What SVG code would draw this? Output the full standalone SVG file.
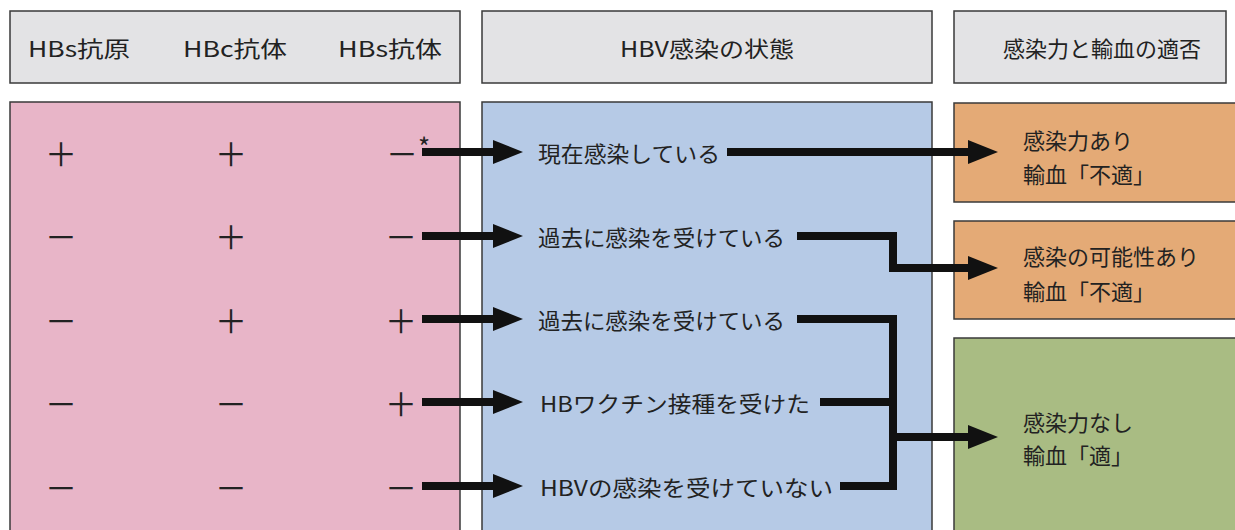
<svg xmlns="http://www.w3.org/2000/svg" width="1235" height="530" viewBox="0 0 1235 530">
<style>
text{font-family:"Noto Sans CJK JP","Noto Sans",sans-serif;fill:#222;}
.hdr{fill:#e3e3e5;stroke:#3a3a3a;stroke-width:1.5;}
.box{stroke:#3a3a3a;stroke-width:1.5;}
.h{font-size:22px;text-anchor:middle;dominant-baseline:central;}
.t{font-size:22px;dominant-baseline:central;}
.s{font-size:32px;text-anchor:middle;dominant-baseline:central;font-weight:400;}
.c{fill:none;stroke:#111;stroke-width:8;stroke-linejoin:miter;}
</style>
<defs>
<marker id="ah" markerUnits="userSpaceOnUse" markerWidth="30" markerHeight="24" refX="4" refY="12" orient="auto">
<path d="M0,0 L30,12 L0,24 Z" fill="#111"/>
</marker>
</defs>
<rect width="1235" height="530" fill="#fff"/>
<g id="header-markers">
<rect class="hdr" x="10" y="11" width="450" height="72"/>
<text class="h" x="79" y="47" textLength="102" lengthAdjust="spacingAndGlyphs">HBs抗原</text>
<text class="h" x="235" y="47" textLength="104" lengthAdjust="spacingAndGlyphs">HBc抗体</text>
<text class="h" x="390" y="47" textLength="104" lengthAdjust="spacingAndGlyphs">HBs抗体</text>
</g>
<g id="header-state">
<rect class="hdr" x="482" y="11" width="450" height="72"/>
<text class="h" x="707" y="47" textLength="174" lengthAdjust="spacingAndGlyphs">HBV感染の状態</text>
</g>
<g id="header-result">
<rect class="hdr" x="954" y="11" width="272" height="72"/>
<text class="h" x="1102" y="47">感染力と輸血の適否</text>
</g>
<g id="markers">
<rect class="box" x="10" y="102" width="450" height="440" fill="#e8b5c8"/>
<text class="s" x="61" y="152">＋</text><text class="s" x="231" y="152">＋</text>
<text class="s" x="386" y="152" style="text-anchor:start">－<tspan font-size="26" dy="-7">*</tspan></text>
<text class="s" x="61" y="235">－</text><text class="s" x="231" y="235">＋</text><text class="s" x="401" y="235">－</text>
<text class="s" x="61" y="319">－</text><text class="s" x="231" y="319">＋</text><text class="s" x="401" y="319">＋</text>
<text class="s" x="61" y="402">－</text><text class="s" x="231" y="402">－</text><text class="s" x="401" y="402">＋</text>
<text class="s" x="61" y="486">－</text><text class="s" x="231" y="486">－</text><text class="s" x="401" y="486">－</text>
</g>
<g id="states">
<rect class="box" x="482" y="102" width="450" height="440" fill="#b6cae6"/>
<text class="t" x="538" y="152" textLength="182" lengthAdjust="spacingAndGlyphs">現在感染している</text>
<text class="t" x="538" y="236" textLength="247" lengthAdjust="spacingAndGlyphs">過去に感染を受けている</text>
<text class="t" x="538" y="319" textLength="247" lengthAdjust="spacingAndGlyphs">過去に感染を受けている</text>
<text class="t" x="540" y="402" textLength="270" lengthAdjust="spacingAndGlyphs">HBワクチン接種を受けた</text>
<text class="t" x="540" y="486" textLength="293" lengthAdjust="spacingAndGlyphs">HBVの感染を受けていない</text>
</g>
<g id="result-infectious">
<rect class="box" x="954" y="103" width="290" height="99" fill="#e4aa76"/>
<text class="t" x="1023" y="139">感染力あり</text>
<text class="t" x="1023" y="173">輸血「不適」</text>
</g>
<g id="result-possible">
<rect class="box" x="954" y="221" width="290" height="98" fill="#e4aa76"/>
<text class="t" x="1023" y="255">感染の可能性あり</text>
<text class="t" x="1023" y="290">輸血「不適」</text>
</g>
<g id="result-safe">
<rect class="box" x="954" y="338" width="290" height="204" fill="#a9bc83"/>
<text class="t" x="1023" y="421">感染力なし</text>
<text class="t" x="1023" y="454">輸血「適」</text>
</g>
<g id="connectors">
<path class="c" d="M422,152 H497" marker-end="url(#ah)"/>
<path class="c" d="M422,236 H497" marker-end="url(#ah)"/>
<path class="c" d="M422,319 H497" marker-end="url(#ah)"/>
<path class="c" d="M422,402 H497" marker-end="url(#ah)"/>
<path class="c" d="M422,486 H497" marker-end="url(#ah)"/>
<path class="c" d="M727,152 H972" marker-end="url(#ah)"/>
<path class="c" d="M797,236 H893 V268 H972" marker-end="url(#ah)"/>
<path class="c" d="M797,319 H893 V486 H840"/>
<path class="c" d="M820,402 H893"/>
<path class="c" d="M893,437 H972" marker-end="url(#ah)"/>
</g>
</svg>
